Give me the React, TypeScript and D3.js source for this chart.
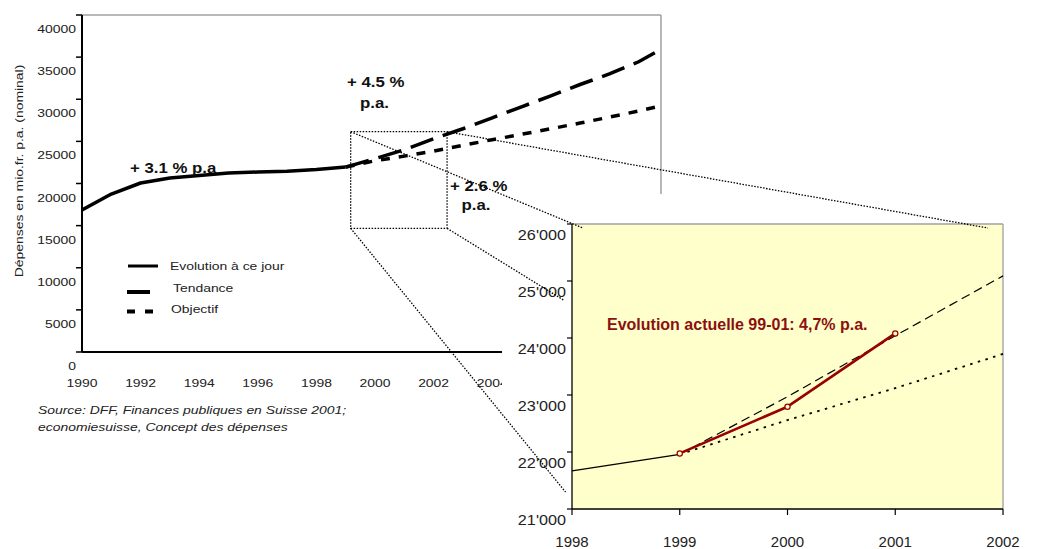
import React from 'react';
import * as d3 from 'd3';

// ---------- Main chart data ----------
const histYears = [1990, 1991, 1992, 1993, 1994, 1995, 1996, 1997, 1998, 1999];
const evolution = [16860, 18750, 20060, 20650, 20950, 21250, 21360, 21450, 21660, 21950];
const projYears = [1999, 2000, 2001, 2002, 2003, 2004, 2005, 2006, 2007, 2008, 2009, 2010];
const tendance = [21950, 22950, 24000, 25300, 26500, 27800, 29100, 30400, 31750, 33000, 34450, 36400];
const objectif = [21950, 22700, 23250, 23850, 24530, 25200, 25840, 26500, 27170, 27880, 28600, 29400];
const mainYTicks = [0, 5000, 10000, 15000, 20000, 25000, 30000, 35000, 40000];
const mainXTicks = [1990, 1992, 1994, 1996, 1998, 2000, 2002, 2004];
const mainXMax = 2009.76;
// zoom box in data units [year0, year1, valueTop, valueBottom]
const zoomBox = [1999.17, 2002.46, 26150, 14680];

// ---------- Inset data ----------
const insetHistYears = [1998, 1999];
const insetHist = [21670, 21960];
const insetProjYears = [1999, 2000, 2001, 2002];
const insetTendance = [21960, 22970, 24040, 25090];
const insetObjectif = [21960, 22560, 23120, 23720];
const actualYears = [1999, 2000, 2001];
const actual = [21975, 22795, 24080];
const insetYTicks = [21000, 22000, 23000, 24000, 25000, 26000];
const insetXTicks = [1998, 1999, 2000, 2001, 2002];
// connector end points in inset data units
const connectorEnds: [number, number][] = [
  [1998.1, 25930],
  [2001.86, 25930],
  [1997.92, 24667],
  [1997.94, 21298],
];

const FONT = "'Liberation Sans', Arial, Helvetica, sans-serif";
const SX = 1.2;

const ST = ({ x, y, sx = SX, rotate = 0, children, ...rest }: any) => (
  <text
    transform={`translate(${x},${y})${rotate ? ` rotate(${rotate})` : ''} scale(${sx},1)`}
    fontFamily={FONT}
    {...rest}
  >
    {children}
  </text>
);

export default function App() {
  const W = 1058, H = 549;
  const xM = d3.scaleLinear().domain([1990, 2010]).range([82, 668]);
  const yM = d3.scaleLinear().domain([0, 40000]).range([352, 15]);
  const xI = d3.scaleLinear().domain([1998, 2002]).range([572, 1003]);
  const yI = d3.scaleLinear().domain([21000, 26000]).range([509, 224]);

  const lineM = (xs: number[], ys: number[]) =>
    d3.line<number>().x((_, i) => xM(xs[i])).y((d) => yM(d))(ys) || '';
  const lineI = (xs: number[], ys: number[]) =>
    d3.line<number>().x((_, i) => xI(xs[i])).y((d) => yI(d))(ys) || '';

  const mL = xM(1990), mR = xM(mainXMax), mT = yM(40000), mB = yM(0);
  const bx0 = xM(zoomBox[0]), bx1 = xM(zoomBox[1]), by0 = yM(zoomBox[2]), by1 = yM(zoomBox[3]);
  const boxCorners: [number, number][] = [
    [bx0, by0],
    [bx1, by0],
    [bx1, by1],
    [bx0, by1],
  ];
  const fmtI = (v: number) => d3.format(',')(v).replace(',', "'");

  return (
    <svg width={W} height={H} style={{ position: 'absolute', left: 0, top: 0 }}>
      <defs>
        <clipPath id="mainClip">
          <rect x={mL} y={mT} width={mR - mL} height={mB - mT} />
        </clipPath>
      </defs>
      <rect x={0} y={0} width={W} height={H} fill="#fff" />

      {/* main frame */}
      <line x1={mL} x2={mR} y1={mT} y2={mT} stroke="#a0a0a0" strokeWidth={1.5} />
      <line x1={mR} x2={mR} y1={mT} y2={mB} stroke="#a0a0a0" strokeWidth={1.5} />
      <line x1={mL} x2={mR} y1={mB} y2={mB} stroke="#000" strokeWidth={2} />
      <line x1={mL} x2={mL} y1={mT} y2={mB} stroke="#000" strokeWidth={2} />
      {mainYTicks.map((t) => (
        <g key={t}>
          <line x1={mL - 6} x2={mL} y1={yM(t)} y2={yM(t)} stroke="#000" strokeWidth={1.5} />
          <ST x={76} y={yM(t) + 18} textAnchor="end" fontSize={11.6} fill="#222">
            {t}
          </ST>
        </g>
      ))}
      {mainXTicks.map((t) => (
        <ST key={t} x={xM(t)} y={387} textAnchor="middle" fontSize={11.6} fill="#222">
          {t}
        </ST>
      ))}
      <ST x={22.5} y={171} rotate={-90} textAnchor="middle" fontSize={11.6} fill="#222">
        Dépenses en mio.fr. p.a. (nominal)
      </ST>

      {/* annotations */}
      <ST x={130} y={173} fontSize={14} fontWeight="bold" fill="#111">+ 3.1 % p.a</ST>
      <ST x={347} y={86.5} fontSize={14} fontWeight="bold" fill="#111">+ 4.5 %</ST>
      <ST x={360} y={107.5} fontSize={14} fontWeight="bold" fill="#111">p.a.</ST>
      <ST x={450} y={191} fontSize={14} fontWeight="bold" fill="#111">+ 2.6 %</ST>
      <ST x={461.5} y={210} fontSize={14} fontWeight="bold" fill="#111">p.a.</ST>

      {/* legend */}
      <line x1={128} x2={158} y1={266} y2={266} stroke="#000" strokeWidth={3} />
      <ST x={170} y={270} fontSize={11.6} fill="#222">Evolution à ce jour</ST>
      <line x1={127} x2={150} y1={292} y2={292} stroke="#000" strokeWidth={4} />
      <ST x={173} y={291.5} fontSize={11.6} fill="#222">Tendance</ST>
      <line x1={127} x2={153} y1={311.5} y2={311.5} stroke="#000" strokeWidth={4} strokeDasharray="8 10" />
      <ST x={171} y={313} fontSize={11.6} fill="#222">Objectif</ST>

      {/* source */}
      <ST x={38} y={414} fontSize={11.6} fontStyle="italic" fill="#222">
        Source: DFF, Finances publiques en Suisse 2001;
      </ST>
      <ST x={38} y={431} fontSize={11.6} fontStyle="italic" fill="#222">
        economiesuisse, Concept des dépenses
      </ST>

      {/* main lines */}
      <g clipPath="url(#mainClip)" fill="none" stroke="#000">
        <path d={lineM(projYears, objectif)} strokeWidth={3.5} strokeDasharray="9 9" />
        <path d={lineM(projYears, tendance)} strokeWidth={3.5} strokeDasharray="24 10" />
        <path d={lineM(histYears, evolution)} strokeWidth={3.5} strokeLinejoin="round" />
      </g>

      {/* zoom box */}
      <rect
        x={bx0}
        y={by0}
        width={bx1 - bx0}
        height={by1 - by0}
        fill="none"
        stroke="#000"
        strokeWidth={1.3}
        strokeDasharray="1.5 1.5"
      />

      {/* inset background */}
      <rect x={502} y={194} width={W - 502} height={H - 194} fill="#fff" />
      <rect x={xI(1998)} y={yI(26000)} width={xI(2002) - xI(1998)} height={yI(21000) - yI(26000)} fill="#ffffcc" />
      <line x1={xI(1998)} x2={xI(2002)} y1={yI(26000)} y2={yI(26000)} stroke="#a0a0a0" strokeWidth={1.3} />
      <line x1={xI(2002)} x2={xI(2002)} y1={yI(26000)} y2={yI(21000)} stroke="#a0a0a0" strokeWidth={1.3} />
      <line x1={xI(1998)} x2={xI(2002)} y1={yI(21000)} y2={yI(21000)} stroke="#000" strokeWidth={1.3} />
      <line x1={xI(1998)} x2={xI(1998)} y1={yI(26000)} y2={yI(21000)} stroke="#000" strokeWidth={1.3} />
      {insetYTicks.map((t) => (
        <g key={t}>
          <line x1={xI(1998) - 5} x2={xI(1998)} y1={yI(t)} y2={yI(t)} stroke="#000" strokeWidth={1.2} />
          <ST x={566} y={yI(t) + 16} sx={1.08} textAnchor="end" fontSize={15} fill="#222">
            {fmtI(t)}
          </ST>
        </g>
      ))}
      {insetXTicks.map((t) => (
        <g key={t}>
          <line x1={xI(t)} x2={xI(t)} y1={yI(21000)} y2={yI(21000) + 6} stroke="#000" strokeWidth={1.2} />
          <ST x={xI(t)} y={547} sx={1} textAnchor="middle" fontSize={15} fill="#222">
            {t}
          </ST>
        </g>
      ))}

      {/* inset lines */}
      <g fill="none">
        <path d={lineI(insetHistYears, insetHist)} stroke="#000" strokeWidth={1.3} />
        <path d={lineI(insetProjYears, insetObjectif)} stroke="#000" strokeWidth={1.8} strokeDasharray="2.5 5.5" />
        <path d={lineI(insetProjYears, insetTendance)} stroke="#000" strokeWidth={1.2} strokeDasharray="9 5" />
        <path d={lineI(actualYears, actual)} stroke="#990000" strokeWidth={2.6} strokeLinejoin="round" />
      </g>
      {actual.map((v, i) => (
        <circle key={i} cx={xI(actualYears[i])} cy={yI(v)} r={2.6} fill="#ffffcc" stroke="#990000" strokeWidth={1.2} />
      ))}
      <ST x={607} y={329.5} sx={1} fontSize={16} fontWeight="bold" fill="#8b1010">
        Evolution actuelle 99-01: 4,7% p.a.
      </ST>

      {/* connectors */}
      {boxCorners.map((c, i) => (
        <line
          key={i}
          x1={c[0]}
          y1={c[1]}
          x2={xI(connectorEnds[i][0])}
          y2={yI(connectorEnds[i][1])}
          stroke="#000"
          strokeWidth={1.3}
          strokeDasharray="1.5 1.5"
        />
      ))}
    </svg>
  );
}
